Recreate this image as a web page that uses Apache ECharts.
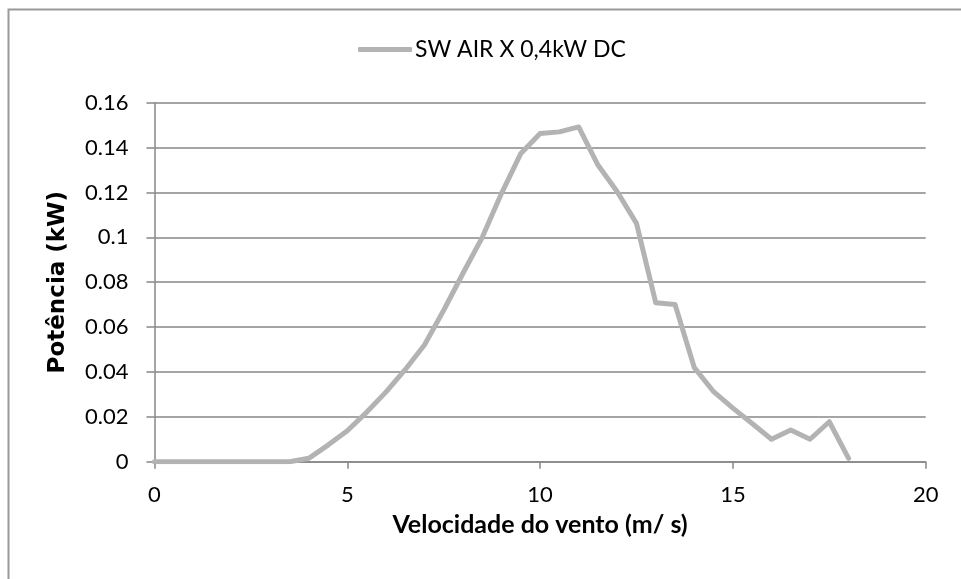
<!DOCTYPE html>
<html>
<head>
<meta charset="utf-8">
<script src="https://cdn.jsdelivr.net/npm/echarts@6/dist/echarts.min.js"></script>
<style>
  html, body { margin: 0; padding: 0; background: #ffffff; }
  #chart { width: 961px; height: 579px; }
</style>
</head>
<body>
<div id="chart"></div>
<script>
// Wind speed (m/s) and measured power output (kW)
const seriesName = 'SW AIR X 0,4kW DC';
const windSpeed = [0, 0.5, 1, 1.5, 2, 2.5, 3, 3.5, 4, 4.5, 5, 5.5, 6, 6.5, 7, 7.5, 8, 8.5, 9, 9.5,
                   10, 10.5, 11, 11.5, 12, 12.5, 13, 13.5, 14, 14.5, 15, 15.5, 16, 16.5, 17, 17.5, 18];
const power = [0, 0, 0, 0, 0, 0, 0, 0, 0.0015, 0.0074, 0.0138, 0.022, 0.031, 0.041, 0.052, 0.0675,
               0.084, 0.1, 0.1196, 0.1374, 0.1463, 0.147, 0.1492, 0.1322, 0.1203, 0.1062, 0.0708,
               0.0701, 0.0419, 0.0312, 0.0239, 0.017, 0.01, 0.0141, 0.01, 0.0178, 0.0015];
const xTitle = 'Velocidade do vento (m/ s)';
const yTitle = 'Potência (kW)';

const FONT = 'Lato, "Open Sans", sans-serif';
const Y_TITLE_FONT = '"DejaVu Sans", Verdana, sans-serif';
const GRID_COLOR = '#878787';
const LINE_COLOR = '#b3b3b3';

const chart = echarts.init(document.getElementById('chart'), null, { renderer: 'canvas' });

chart.setOption({
  animation: false,
  backgroundColor: '#ffffff',
  graphic: [{
    type: 'rect',
    shape: { x: 8.5, y: 9.5, width: 1200, height: 800 },
    style: { fill: 'none', stroke: '#9a9a9a', lineWidth: 2 },
    silent: true,
    z: -1
  }],
  legend: {
    left: 358,
    top: 38,
    padding: 0,
    icon: 'roundRect',
    itemWidth: 54,
    itemHeight: 5,
    itemGap: 10,
    textStyle: { fontFamily: FONT, fontSize: 23, color: '#000000', padding: [0, 0, 0, -2] },
    data: [seriesName]
  },
  grid: {
    left: 154.5,
    right: 35.3,
    top: 102.7,
    bottom: 117.3,
    containLabel: false
  },
  xAxis: {
    type: 'value',
    min: 0,
    max: 20,
    interval: 5,
    name: xTitle,
    nameLocation: 'middle',
    nameGap: 51,
    nameTextStyle: { fontFamily: FONT, fontSize: 25, fontWeight: 'bold', color: '#000000' },
    axisLine: { show: true, lineStyle: { color: GRID_COLOR, width: 1.5 } },
    axisTick: { show: true, length: 7, inside: false, lineStyle: { color: GRID_COLOR, width: 1.5 } },
    axisLabel: { fontFamily: FONT, fontSize: 22, color: '#000000', margin: 22 },
    splitLine: { show: false }
  },
  yAxis: {
    type: 'value',
    min: 0,
    max: 0.16,
    interval: 0.02,
    name: yTitle,
    nameLocation: 'middle',
    nameGap: 85,
    nameRotate: 90,
    nameTextStyle: { fontFamily: Y_TITLE_FONT, fontSize: 23, fontWeight: 'bold', color: '#000000' },
    axisLine: { show: true, lineStyle: { color: GRID_COLOR, width: 1.5 } },
    axisTick: { show: true, length: 8, inside: false, lineStyle: { color: GRID_COLOR, width: 1.5 } },
    axisLabel: {
      fontFamily: FONT, fontSize: 22, color: '#000000', margin: 26,
      formatter: v => String(Math.round(v * 100) / 100)
    },
    splitLine: { show: true, lineStyle: { color: GRID_COLOR, width: 1.5 } }
  },
  series: [{
    name: seriesName,
    type: 'line',
    data: windSpeed.map((s, i) => [s, power[i]]),
    showSymbol: false,
    symbol: 'none',
    lineStyle: { color: LINE_COLOR, width: 5, cap: 'round', join: 'round' },
    itemStyle: { color: LINE_COLOR },
    z: 3
  }]
});
</script>
</body>
</html>
